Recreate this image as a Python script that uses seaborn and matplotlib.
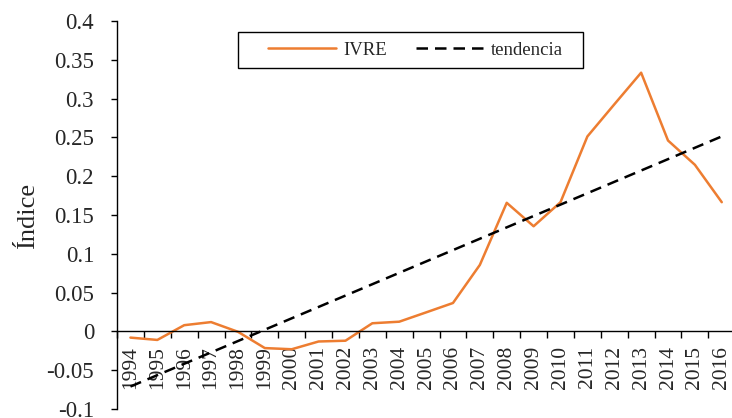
import numpy as np
import pandas as pd
import matplotlib
matplotlib.use("Agg")
import matplotlib.pyplot as plt
import seaborn as sns
from matplotlib.ticker import FixedLocator, NullFormatter, FixedFormatter
from matplotlib.patches import Rectangle

years = [str(y) for y in range(1994, 2017)]
ivre = [-0.008, -0.011, 0.008, 0.012, -0.0005, -0.0215, -0.023, -0.013, -0.012,
        0.0105, 0.0125, 0.0245, 0.0366, 0.0857, 0.1657, 0.1355, 0.1665, 0.2512, 0.2925,
        0.3334, 0.246, 0.2147, 0.1665]
yticks = [-0.1, -0.05, 0, 0.05, 0.1, 0.15, 0.2, 0.25, 0.3, 0.35, 0.4]
ytick_labels = ["-0.1", "-0.05", "0", "0.05", "0.1", "0.15", "0.2", "0.25", "0.3", "0.35", "0.4"]

sns.set_style("white")
plt.rcParams['font.family'] = ['Liberation Serif', 'DejaVu Serif']

W, H = 732, 418
idx = np.arange(len(years))
df = pd.DataFrame({"x": idx, "IVRE": ivre})
coef = np.polyfit(idx, ivre, 1)
df["tendencia"] = np.polyval(coef, idx)

fig = plt.figure(figsize=(W / 100, H / 100), dpi=100)
ax_w = 618.2
ax = fig.add_axes([117 / W, 9 / H, ax_w / W, 388 / H])

sns.lineplot(data=df, x="x", y="IVRE", ax=ax, color="#ED7D31", linewidth=1.8, label="IVRE")
sns.lineplot(data=df, x="x", y="tendencia", ax=ax, color="black", linewidth=1.8,
             linestyle=(0, (4.6, 2.8)), label="tendencia")

ax.set_xlim(-0.5, len(years) - 0.5)
ax.set_ylim(-0.1, 0.4)
ax.set_yticks(yticks)
ax.set_yticklabels(ytick_labels, fontsize=16.5)
ax.tick_params(axis='y', direction='out', length=4.5, width=1, color='black', pad=12, left=True)

ax.xaxis.set_major_locator(FixedLocator(np.arange(-0.5, len(years), 1.0)))
ax.xaxis.set_major_formatter(NullFormatter())
ax.xaxis.set_minor_locator(FixedLocator(idx))
ax.xaxis.set_minor_formatter(FixedFormatter(years))
ax.tick_params(axis='x', which='major', direction='out', length=5, width=1, color='black', bottom=True)
ax.tick_params(axis='x', which='minor', length=0, labelsize=15.5, labelrotation=90, pad=10.5, bottom=True)
for lab in ax.xaxis.get_minorticklabels():
    lab.set_verticalalignment('top')

ax.spines['top'].set_visible(False)
ax.spines['right'].set_visible(False)
ax.spines['left'].set_color('black')
ax.spines['left'].set_linewidth(1)
ax.spines['bottom'].set_position(('data', 0))
ax.spines['bottom'].set_color('black')
ax.spines['bottom'].set_linewidth(1)

ax.set_xlabel("")
ax.set_ylabel("Índice", fontsize=19)
ax.yaxis.label.set_verticalalignment('center')
ax.yaxis.set_label_coords(-(117 - 28) / ax_w, 0.5)
ax.grid(False)

fs = 13.5
leg = ax.legend(loc='center left', bbox_to_anchor=(268 / W, 1 - 50 / H),
                bbox_transform=fig.transFigure, ncol=2, frameon=False,
                fontsize=fs, handlelength=3.65, handletextpad=0.35,
                columnspacing=1.55, borderpad=0, borderaxespad=0)
fig.add_artist(Rectangle((238 / W, 1 - 68 / H), (583 - 238) / W, 36 / H,
                         transform=fig.transFigure, fill=False, edgecolor='black',
                         linewidth=1))

fig.savefig("out.png", dpi=100)
